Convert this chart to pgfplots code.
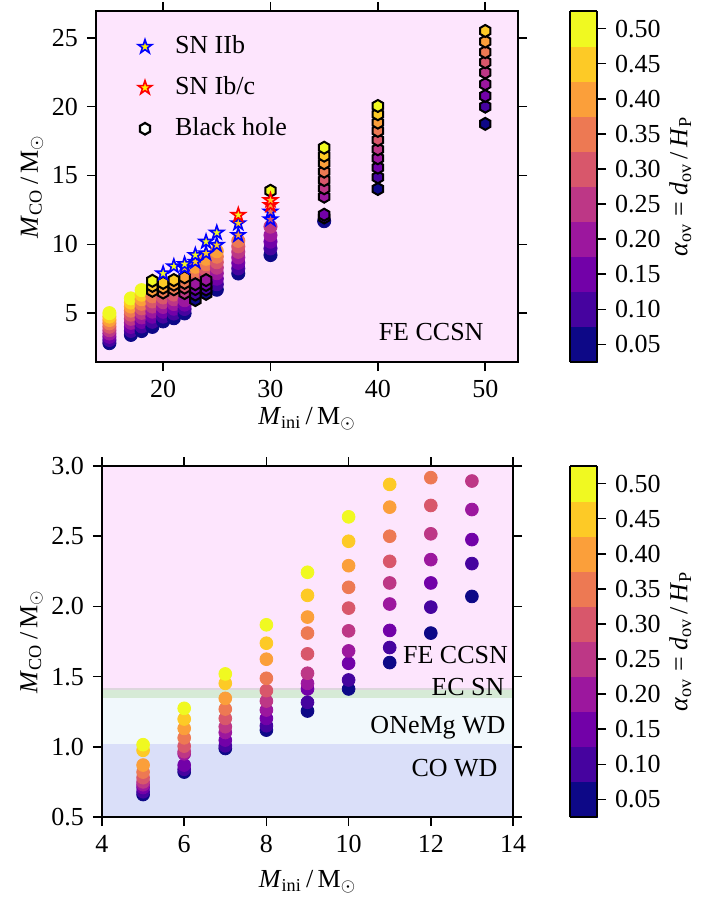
\documentclass[border=0pt]{standalone}
\usepackage{fontspec}
\setmainfont{Liberation Serif}
\usepackage{pgfplots}
\pgfplotsset{compat=1.18}
\usepackage{pgfplotstable}
\usetikzlibrary{plotmarks}

\definecolor{bgpink}{RGB}{253,229,253}
\definecolor{ecgreen}{RGB}{214,234,214}
\definecolor{onecyan}{RGB}{241,248,252}
\definecolor{cowd}{RGB}{218,223,249}
\definecolor{overlapc}{RGB}{222,214,222}

\pgfdeclareplotmark{mstar}{%
  \pgfpathmoveto{\pgfpointpolar{90}{\pgfplotmarksize}}%
  \pgfpathlineto{\pgfpointpolar{126}{0.382\pgfplotmarksize}}%
  \pgfpathlineto{\pgfpointpolar{162}{\pgfplotmarksize}}%
  \pgfpathlineto{\pgfpointpolar{198}{0.382\pgfplotmarksize}}%
  \pgfpathlineto{\pgfpointpolar{234}{\pgfplotmarksize}}%
  \pgfpathlineto{\pgfpointpolar{270}{0.382\pgfplotmarksize}}%
  \pgfpathlineto{\pgfpointpolar{306}{\pgfplotmarksize}}%
  \pgfpathlineto{\pgfpointpolar{342}{0.382\pgfplotmarksize}}%
  \pgfpathlineto{\pgfpointpolar{18}{\pgfplotmarksize}}%
  \pgfpathlineto{\pgfpointpolar{54}{0.382\pgfplotmarksize}}%
  \pgfpathclose\pgfusepathqfillstroke}
\pgfdeclareplotmark{hexa}{%
  \pgfpathmoveto{\pgfpointpolar{90}{\pgfplotmarksize}}%
  \pgfpathlineto{\pgfpointpolar{150}{\pgfplotmarksize}}%
  \pgfpathlineto{\pgfpointpolar{210}{\pgfplotmarksize}}%
  \pgfpathlineto{\pgfpointpolar{270}{\pgfplotmarksize}}%
  \pgfpathlineto{\pgfpointpolar{330}{\pgfplotmarksize}}%
  \pgfpathlineto{\pgfpointpolar{30}{\pgfplotmarksize}}%
  \pgfpathclose\pgfusepathqfillstroke}

\pgfkeys{/pgf/number format/assume math mode=true}

% top panel: circles
\pgfplotstableread{
m co a
15 2.82 0.05
15 3.05 0.10
15 3.28 0.15
15 3.52 0.20
15 3.76 0.25
15 4.01 0.30
15 4.26 0.35
15 4.50 0.40
15 4.75 0.45
15 5.00 0.50
17 3.42 0.05
17 3.71 0.10
17 4.00 0.15
17 4.30 0.20
17 4.59 0.25
17 4.89 0.30
17 5.18 0.35
17 5.48 0.40
17 5.77 0.45
17 6.07 0.50
18 3.70 0.05
18 4.03 0.10
18 4.36 0.15
18 4.69 0.20
18 5.02 0.25
18 5.35 0.30
18 5.68 0.35
18 6.01 0.40
18 6.34 0.45
18 6.67 0.50
19 4.00 0.05
19 4.37 0.10
19 4.74 0.15
19 5.11 0.20
19 5.48 0.25
19 5.85 0.30
19 6.22 0.35
20 4.40 0.05
20 4.75 0.10
20 5.10 0.15
20 5.45 0.20
20 5.80 0.25
20 6.14 0.30
21 4.63 0.05
21 4.97 0.10
21 5.32 0.15
21 5.66 0.20
21 6.01 0.25
21 6.35 0.30
22 4.98 0.05
22 5.30 0.10
22 5.62 0.15
22 5.94 0.20
23 7.40 0.25
23 7.72 0.30
23 8.05 0.35
23 8.37 0.40
24 7.75 0.25
24 8.15 0.30
24 8.55 0.35
24 8.95 0.40
25 6.70 0.05
25 7.10 0.10
25 7.50 0.15
25 7.90 0.20
25 8.30 0.25
25 8.70 0.30
25 9.10 0.35
25 9.50 0.40
27 7.88 0.05
27 8.25 0.10
27 8.65 0.15
27 9.05 0.20
27 9.45 0.25
27 9.85 0.30
27 10.25 0.35
30 9.22 0.05
30 9.70 0.10
30 10.19 0.15
30 10.67 0.20
30 11.28 0.25
35 11.68 0.05
}\topcirc

% top panel: black holes
\pgfplotstableread{
m co a
19 6.62 0.40
19 6.98 0.45
19 7.35 0.50
20 6.50 0.35
20 6.85 0.40
20 7.20 0.45
21 6.73 0.35
21 7.07 0.40
21 7.40 0.45
22 6.46 0.25
22 6.85 0.30
22 7.20 0.35
22 7.60 0.40
23 5.95 0.05
23 6.35 0.10
23 6.75 0.15
23 7.10 0.20
24 6.40 0.05
24 6.72 0.10
24 7.05 0.15
24 7.40 0.20
30 13.89 0.50
35 11.95 0.10
35 12.15 0.15
35 13.46 0.20
35 14.07 0.25
35 14.67 0.30
35 15.28 0.35
35 15.89 0.40
35 16.44 0.45
35 17.02 0.50
40 14.02 0.05
40 14.87 0.10
40 15.57 0.15
40 16.25 0.20
40 16.90 0.25
40 17.58 0.30
40 18.24 0.35
40 18.84 0.40
40 19.45 0.45
40 20.05 0.50
50 18.75 0.05
50 20.00 0.10
50 20.78 0.15
50 21.63 0.20
50 22.48 0.25
50 23.23 0.30
50 23.96 0.35
50 24.73 0.40
50 25.50 0.45
}\tophex

% top panel: SN IIb
\pgfplotstableread{
m co a
20 7.88 0.50
21 8.40 0.50
22 8.30 0.45
22 8.56 0.50
23 8.73 0.45
23 9.22 0.50
24 9.34 0.45
24 10.19 0.50
25 9.95 0.45
25 10.84 0.50
27 10.67 0.40
27 11.52 0.45
30 11.81 0.30
30 12.37 0.35
}\topiib

% top panel: SN Ib/c
\pgfplotstableread{
m co a
27 12.13 0.50
30 12.85 0.40
30 13.20 0.45
}\topibc

% bottom panel
\pgfplotstableread{
m co a
5 0.66 0.05
5 0.68 0.10
5 0.71 0.15
5 0.73 0.20
5 0.75 0.25
5 0.78 0.30
5 0.82 0.35
5 0.87 0.40
5 0.975 0.45
5 1.015 0.50
6 0.82 0.05
6 0.84 0.10
6 0.87 0.15
6 0.95 0.20
6 0.965 0.25
6 1.005 0.30
6 1.064 0.35
6 1.131 0.40
6 1.198 0.45
6 1.274 0.50
7 0.988 0.05
7 1.007 0.10
7 1.048 0.15
7 1.102 0.20
7 1.143 0.25
7 1.202 0.30
7 1.269 0.35
7 1.345 0.40
7 1.452 0.45
7 1.519 0.50
8 1.119 0.05
8 1.150 0.10
8 1.202 0.15
8 1.262 0.20
8 1.326 0.25
8 1.400 0.30
8 1.488 0.35
8 1.624 0.40
8 1.738 0.45
8 1.869 0.50
9 1.255 0.05
9 1.317 0.10
9 1.412 0.15
9 1.452 0.20
9 1.524 0.25
9 1.662 0.30
9 1.810 0.35
9 1.924 0.40
9 2.079 0.45
9 2.243 0.50
10 1.412 0.05
10 1.476 0.10
10 1.595 0.15
10 1.683 0.20
10 1.826 0.25
10 1.988 0.30
10 2.136 0.35
10 2.290 0.40
10 2.464 0.45
10 2.638 0.50
11 1.600 0.05
11 1.707 0.10
11 1.829 0.15
11 2.017 0.20
11 2.167 0.25
11 2.321 0.30
11 2.500 0.35
11 2.707 0.40
11 2.869 0.45
12 1.810 0.05
12 1.995 0.10
12 2.167 0.15
12 2.333 0.20
12 2.517 0.25
12 2.719 0.30
12 2.917 0.35
13 2.071 0.05
13 2.305 0.10
13 2.476 0.15
13 2.690 0.20
13 2.893 0.25
}\botcirc

\pgfplotsset{
  panel/.style={
    scale only axis,
    axis on top,
    tick align=outside,
    tick pos=both,
    major tick length=4.5pt,
    tick style={line width=0.8pt, black},
    axis line style={line width=0.8pt},
    colormap={plasmaD}{rgb255=(13,8,135) rgb255=(70,3,159) rgb255=(114,1,168)
      rgb255=(156,23,158) rgb255=(189,55,134) rgb255=(216,87,107)
      rgb255=(237,121,83) rgb255=(251,159,58) rgb255=(253,202,38)
      rgb255=(240,249,33)},
    colormap access=piecewise constant,
    point meta min=0.025, point meta max=0.525,
    colorbar,
    xlabel={\textit{M}\textsubscript{ini}\,/\,M$_\odot$},
    ylabel={\textit{M}\textsubscript{CO}\,/\,M$_\odot$},
    ylabel shift=-4.5pt,
  },
  cbar/.style={
    scale only axis,
    width=13.5pt,
    at={(parent axis.north east)}, anchor=north west,
    xshift=#1,
    ytick={0.05,0.10,0.15,0.20,0.25,0.30,0.35,0.40,0.45,0.50},
    yticklabel style={/pgf/number format/.cd, fixed, fixed zerofill, precision=2},
    ytick pos=right,
    tick align=outside,
    major tick length=4.5pt,
    tick style={line width=0.8pt, black},
    axis line style={line width=0.8pt},
    ylabel={\textit{α}\textsubscript{ov} = \textit{d}\textsubscript{ov}\,/\,\textit{H}\textsubscript{P}},
    ylabel shift=-4.5pt,
  },
  circ/.style={scatter, only marks, mark=*, mark size=3.3pt, scatter src=explicit,
    scatter/use mapped color={draw=mapped color, fill=mapped color}, forget plot},
}

\begin{document}
\fontsize{13}{15.6}\selectfont
\begin{tikzpicture}
\useasboundingbox (0,0) rectangle (353.5pt,-449.5pt);

\begin{axis}[panel,
  at={(48pt,-181pt)}, anchor=south west,
  width=211pt, height=175.5pt,
  xmin=13.75, xmax=53.05, ymin=1.45, ymax=26.95,
  xtick={20,30,40,50}, ytick={5,10,15,20,25},
  xlabel shift=-4pt,
  axis background/.style={fill=bgpink},
  colorbar style={cbar=17.5pt},
  legend style={draw=none, fill=none, at={(0.082,0.953)}, anchor=north west,
    row sep=5.5pt},
  legend cell align=left,
  legend image code/.code={\path[draw=none, fill=none] (-4pt,0pt) -- (13pt,0pt); \draw[#1] plot coordinates {(0pt,0pt)};},
]
\addlegendimage{only marks, mark=mstar, mark size=3.6pt, draw=blue, fill=yellow, line width=0.8pt}
\addlegendentry{SN IIb}
\addlegendimage{only marks, mark=mstar, mark size=3.6pt, draw=red, fill=yellow, line width=0.8pt}
\addlegendentry{SN Ib/c}
\addlegendimage{only marks, mark=hexa, mark size=2.9pt, draw=black, fill=white, line width=1.1pt}
\addlegendentry{Black hole}

\addplot[circ] table[x=m, y=co, meta=a] {\topcirc};
\addplot[scatter, only marks, mark=hexa, mark size=3.0pt, scatter src=explicit,
  mark options={line width=1pt},
  scatter/use mapped color={draw=black, fill=mapped color}, forget plot]
  table[x=m, y=co, meta=a] {\tophex};
\addplot[scatter, only marks, mark=mstar, mark size=3.6pt, scatter src=explicit,
  mark options={line width=0.8pt},
  scatter/use mapped color={draw=blue, fill=mapped color}, forget plot]
  table[x=m, y=co, meta=a] {\topiib};
\addplot[scatter, only marks, mark=mstar, mark size=3.6pt, scatter src=explicit,
  mark options={line width=0.8pt},
  scatter/use mapped color={draw=red, fill=mapped color}, forget plot]
  table[x=m, y=co, meta=a] {\topibc};
\node at (axis cs:44.96,3.64) {FE CCSN};
\end{axis}

\begin{axis}[panel,
  at={(51pt,-408.5pt)}, anchor=south west,
  width=205.5pt, height=175.5pt,
  xmin=4, xmax=14, ymin=0.5, ymax=3.0,
  xtick={4,6,8,10,12,14},
  ytick={0.5,1.0,1.5,2.0,2.5,3.0},
  yticklabel style={/pgf/number format/.cd, fixed, fixed zerofill, precision=1},
  colorbar style={cbar=20pt},
]
\addplot[draw=none, fill=cowd, forget plot] coordinates {(4,0.5) (14,0.5) (14,1.02) (4,1.02)} --cycle;
\addplot[draw=none, fill=onecyan, forget plot] coordinates {(4,1.02) (14,1.02) (14,1.345) (4,1.345)} --cycle;
\addplot[draw=none, fill=ecgreen, forget plot] coordinates {(4,1.345) (14,1.345) (14,1.405) (4,1.405)} --cycle;
\addplot[draw=none, fill=overlapc, forget plot] coordinates {(4,1.405) (14,1.405) (14,1.42) (4,1.42)} --cycle;
\addplot[draw=none, fill=bgpink, forget plot] coordinates {(4,1.42) (14,1.42) (14,3.0) (4,3.0)} --cycle;

\addplot[circ, mark size=3.2pt] table[x=m, y=co, meta=a] {\botcirc};

\node at (axis cs:12.60,1.655) {FE CCSN};
\node at (axis cs:12.905,1.429) {EC SN};
\node at (axis cs:12.175,1.136) {ONeMg WD};
\node at (axis cs:12.577,0.845) {CO WD};
\end{axis}
\end{tikzpicture}
\end{document}
